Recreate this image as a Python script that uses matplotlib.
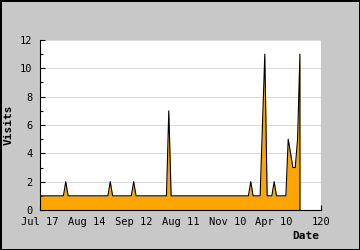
import matplotlib
matplotlib.use('Agg')
import matplotlib.pyplot as plt
import numpy as np

# visits per day index (days with traffic only)
visits = [1, 1, 1, 1, 1, 1, 1, 1, 1, 1,
          1, 2, 1, 1, 1, 1, 1, 1, 1, 1,
          1, 1, 1, 1, 1, 1, 1, 1, 1, 1,
          2, 1, 1, 1, 1, 1, 1, 1, 1, 1,
          2, 1, 1, 1, 1, 1, 1, 1, 1, 1,
          1, 1, 1, 1, 1, 7, 1, 1, 1, 1,
          1, 1, 1, 1, 1, 1, 1, 1, 1, 1,
          1, 1, 1, 1, 1, 1, 1, 1, 1, 1,
          1, 1, 1, 1, 1, 1, 1, 1, 1, 1,
          2, 1, 1, 1, 1, 6, 11, 1, 1, 1,
          2, 1, 1, 1, 1, 1, 5, 4, 3, 3,
          5, 11]
xtick_pos = [0, 20, 40, 60, 80, 100, 120]
xtick_labels = ['Jul 17', 'Aug 14', 'Sep 12', 'Aug 11', 'Nov 10', 'Apr 10', '120']
ytick_pos = [0, 2, 4, 6, 8, 10, 12]

x = np.arange(len(visits))
y = np.array(visits)

plt.rcParams['font.family'] = ['DejaVu Sans Mono']

fig = plt.figure(figsize=(3.6, 2.5), dpi=100)
fig.patch.set_facecolor('#c8c8c8')
fig.patch.set_edgecolor('black')
fig.patch.set_linewidth(1.0)
ax = fig.add_axes([40/360, 40/250, 281/360, 170/250])
ax.set_facecolor('white')

ax.fill_between(x, y, 0, color='#ffa500', linewidth=0, zorder=2)
ax.plot(np.append(x, x[-1]), np.append(y, 0), color='black', linewidth=0.8, zorder=3)

ax.set_xlim(0, 120)
ax.set_ylim(0, 12)
ax.set_xticks(xtick_pos)
ax.set_xticklabels(xtick_labels)
ax.set_yticks(ytick_pos)
ax.set_yticks([1, 3, 5, 7, 9, 11], minor=True)
ax.grid(axis='y', color='#dadada', linewidth=0.7, zorder=1)
ax.set_axisbelow(True)

for s in ['top', 'right']:
    ax.spines[s].set_visible(False)
for s in ['left', 'bottom']:
    ax.spines[s].set_linewidth(0.8)
    ax.spines[s].set_zorder(4)

ax.tick_params(which='major', direction='in', length=3.6, width=0.8, labelsize=7.5, color='black')
ax.tick_params(axis='y', which='major', pad=5.5)
ax.tick_params(axis='x', which='major', pad=5)
ax.tick_params(axis='y', which='minor', direction='in', length=2.2, width=0.8)

ax.set_xlabel('Date', fontsize=8, fontweight='bold', loc='right')
ax.xaxis.set_label_coords(0.995, -0.125)
ax.set_ylabel('Visits', fontsize=8, fontweight='bold')
ax.yaxis.set_label_coords(-0.093, 0.5)

fig.savefig('out.png', dpi=100, facecolor=fig.get_facecolor(), edgecolor='black')
